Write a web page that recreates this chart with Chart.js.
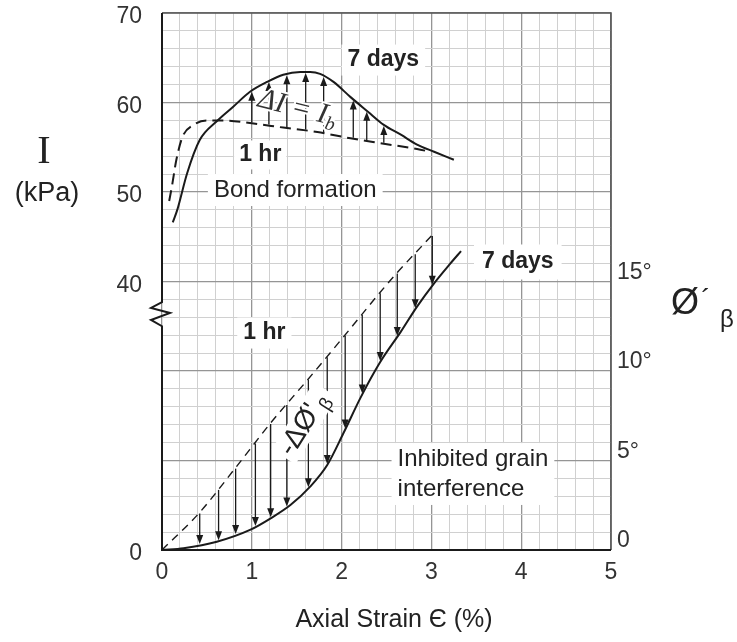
<!DOCTYPE html>
<html>
<head>
<meta charset="utf-8">
<script src="https://cdn.jsdelivr.net/npm/chart.js@4.4.1/dist/chart.umd.min.js"></script>
<style>
html,body{margin:0;padding:0;background:#fff;}
#chart{display:block;}
</style>
</head>
<body>
<canvas id="chart" width="737" height="642"></canvas>
<script>
// upper curves: I (kPa) against axial strain (%)
var strain7dI = [0.12, 0.17, 0.28, 0.42, 0.61, 0.79, 0.98, 1.17, 1.35, 1.54, 1.65, 1.76, 1.91, 2.10, 2.29, 2.47, 2.66, 2.84, 3.03, 3.25];
var stress7d  = [46.6, 48.0, 52.1, 55.8, 57.9, 59.5, 61.2, 62.3, 63.1, 63.4, 63.4, 63.2, 62.3, 60.6, 59.0, 57.5, 56.4, 55.3, 54.5, 53.6];
var strain1hI = [0.08, 0.11, 0.16, 0.23, 0.35, 0.50, 0.68, 0.98, 1.35, 1.73, 2.10, 2.47, 2.84, 2.99];
var stress1h  = [49.0, 50.6, 53.6, 56.2, 57.5, 58.0, 58.0, 57.7, 57.2, 56.7, 56.0, 55.4, 54.8, 54.5];

// lower curves: phi'b (deg) against axial strain (%)
var strain7dPhi = [0, 0.24, 0.61, 0.98, 1.21, 1.43, 1.65, 1.84, 2.02, 2.21, 2.43, 2.66, 2.84, 3.03, 3.21, 3.33];
var phi7d       = [0, 0.10, 0.46, 1.12, 1.77, 2.51, 3.54, 4.75, 6.52, 8.50, 10.5, 12.2, 13.6, 14.9, 16.0, 16.7];
var strain1hPhi = [0, 0.42, 0.82, 1.21, 1.62, 2.02, 2.43, 2.62, 3.01];
var phi1h       = [0, 2.1, 4.6, 7.1, 9.5, 11.9, 14.4, 15.5, 17.6];

// arrows between the curves (strain positions)
var upArrowX = [1.00, 1.19, 1.39, 1.60, 1.80, 2.13, 2.28, 2.47];
var downArrowX = [0.42, 0.63, 0.82, 1.04, 1.21, 1.39, 1.63, 1.84, 2.04, 2.23, 2.43, 2.62, 2.82, 3.01];

// tick labels
var leftTickVals = [10, 40, 50, 60, 70];
var leftTickText = ["0", "40", "50", "60", "70"];
var rightTickVals = [0, 5, 10, 15];
var rightTickText = ["0", "5°", "10°", "15°"];

var SANS = '"Liberation Sans", Arial, sans-serif';
var SERIF = '"Liberation Serif", "Times New Roman", serif';
var majorCol = "#959595", minorCol = "#d0d0d0";

function pts(xs, ys) {
    var out = [];
    for (var i = 0; i < xs.length; i++) out.push({x: xs[i], y: ys[i]});
    return out;
}
function interp(xs, ys, x) {
    if (x <= xs[0]) return ys[0];
    for (var i = 1; i < xs.length; i++) {
        if (x <= xs[i]) {
            var t = (x - xs[i - 1]) / (xs[i] - xs[i - 1]);
            return ys[i - 1] + t * (ys[i] - ys[i - 1]);
        }
    }
    return ys[ys.length - 1];
}
function isStep(v, s) {
    var r = v / s;
    return Math.abs(r - Math.round(r)) < 1e-6;
}
function arrow(ctx, x, y1, y2) {
    var dir = y2 > y1 ? 1 : -1;
    ctx.beginPath();
    ctx.moveTo(x, y1);
    ctx.lineTo(x, y2 - dir * 6);
    ctx.stroke();
    ctx.beginPath();
    ctx.moveTo(x, y2);
    ctx.lineTo(x - 3.5, y2 - dir * 9);
    ctx.lineTo(x + 3.5, y2 - dir * 9);
    ctx.closePath();
    ctx.fill();
}
function boxText(ctx, txt, x, y, font, padX, padY) {
    ctx.font = font;
    var w = ctx.measureText(txt).width;
    var h = parseInt(font.replace("bold ", ""), 10);
    ctx.fillStyle = "#fff";
    ctx.fillRect(x - w / 2 - padX, y - h / 2 - padY, w + padX * 2, h + padY * 2);
    ctx.fillStyle = "#222";
    ctx.fillText(txt, x, y);
}
// y axes: no extra room for half labels, the frame top sits at 13px
function fixY(width) {
    return function (s) {
        s.width = width;
        s.paddingTop = 0;
        s.paddingBottom = 0;
    };
}

var extras = {
    id: "extras",
    beforeDatasetsDraw: function (chart) {
        var ctx = chart.ctx, xs = chart.scales.x, ys = chart.scales.phi;
        ctx.save();
        ctx.textAlign = "center";
        ctx.textBaseline = "middle";
        boxText(ctx, "7 days", xs.getPixelForValue(2.465), ys.getPixelForValue(27.37), "bold 23px " + SANS, 6, 4);
        boxText(ctx, "1 hr", xs.getPixelForValue(1.094), ys.getPixelForValue(22.07), "bold 23px " + SANS, 5, 3);
        boxText(ctx, "Bond formation", xs.getPixelForValue(1.484), ys.getPixelForValue(20.11), "24px " + SANS, 6, 4);
        boxText(ctx, "7 days", xs.getPixelForValue(3.962), ys.getPixelForValue(16.09), "bold 23px " + SANS, 8, 6);
        boxText(ctx, "1 hr", xs.getPixelForValue(1.14), ys.getPixelForValue(12.12), "bold 23px " + SANS, 6, 4);
        // two line note
        ctx.font = "24px " + SANS;
        var lx = xs.getPixelForValue(2.623);
        var l1 = ys.getPixelForValue(5.08), l2 = ys.getPixelForValue(3.41);
        var w = ctx.measureText("Inhibited grain").width;
        ctx.fillStyle = "#fff";
        ctx.fillRect(lx - 6, l1 - 16, w + 12, l2 - l1 + 32);
        ctx.fillStyle = "#222";
        ctx.textAlign = "left";
        ctx.fillText("Inhibited grain", lx, l1);
        ctx.fillText("interference", lx, l2);
        ctx.restore();
    },
    afterDatasetsDraw: function (chart) {
        var ctx = chart.ctx, xs = chart.scales.x, ys = chart.scales.phi, yi = chart.scales.yI;
        var i, x, px;
        ctx.save();
        ctx.strokeStyle = "#1a1a1a";
        ctx.fillStyle = "#1a1a1a";
        ctx.lineWidth = 1.3;
        for (i = 0; i < upArrowX.length; i++) {
            x = upArrowX[i];
            px = xs.getPixelForValue(x);
            arrow(ctx, px, yi.getPixelForValue(interp(strain1hI, stress1h, x)) - 1,
                yi.getPixelForValue(interp(strain7dI, stress7d, x)) + 1);
        }
        for (i = 0; i < downArrowX.length; i++) {
            x = downArrowX[i];
            px = xs.getPixelForValue(x);
            arrow(ctx, px, ys.getPixelForValue(interp(strain1hPhi, phi1h, x)) + 1,
                ys.getPixelForValue(interp(strain7dPhi, phi7d, x)) - 1);
        }

        // delta I = Ib
        ctx.translate(xs.getPixelForValue(1.574), yi.getPixelForValue(10 + 2 * 24.58));
        ctx.rotate(14 * Math.PI / 180);
        ctx.textBaseline = "middle";
        ctx.textAlign = "left";
        ctx.font = "italic 29px " + SERIF;
        ctx.lineWidth = 4;
        ctx.strokeStyle = "#fff";
        ctx.strokeText("\u0394I = I", -46, 0);
        ctx.fillStyle = "#333";
        ctx.fillText("\u0394I = I", -46, 0);
        var ww = ctx.measureText("\u0394I = I").width;
        ctx.font = "italic 19px " + SERIF;
        ctx.strokeText("b", -46 + ww, 8);
        ctx.fillText("b", -46 + ww, 8);
        ctx.setTransform(1, 0, 0, 1, 0, 0);

        // - delta phi'b
        ctx.translate(xs.getPixelForValue(1.54), ys.getPixelForValue(6.7));
        ctx.rotate(-58 * Math.PI / 180);
        ctx.font = "28px " + SANS;
        var t = "-\u0394\u00D8'";
        var tw = ctx.measureText(t).width;
        ctx.fillStyle = "#fff";
        ctx.fillRect(-tw / 2 - 4, -14, tw + 24, 28);
        ctx.fillStyle = "#222";
        ctx.textAlign = "left";
        ctx.fillText(t, -tw / 2, 0);
        ctx.font = "19px " + SANS;
        ctx.fillText("\u03B2", tw / 2 + 3, 9);
        ctx.restore();
    },
    afterDraw: function (chart) {
        var ctx = chart.ctx, a = chart.chartArea, ys = chart.scales.phi;
        ctx.save();
        // frame
        ctx.strokeStyle = "#555";
        ctx.lineWidth = 1.6;
        ctx.beginPath();
        ctx.moveTo(a.left, a.top);
        ctx.lineTo(a.right, a.top);
        ctx.lineTo(a.right, a.bottom);
        ctx.stroke();
        ctx.strokeStyle = "#1a1a1a";
        ctx.lineWidth = 2;
        ctx.beginPath();
        ctx.moveTo(a.right, a.bottom);
        ctx.lineTo(a.left, a.bottom);
        ctx.lineTo(a.left, ys.getPixelForValue(12.5));
        ctx.lineTo(a.left - 11, ys.getPixelForValue(12.85));
        ctx.lineTo(a.left + 8, ys.getPixelForValue(13.24));
        ctx.lineTo(a.left - 11, ys.getPixelForValue(13.52));
        ctx.lineTo(a.left, ys.getPixelForValue(13.85));
        ctx.lineTo(a.left, a.top);
        ctx.stroke();

        // axis titles
        ctx.fillStyle = "#222";
        ctx.textAlign = "center";
        ctx.textBaseline = "middle";
        ctx.font = "40px " + SERIF;
        ctx.fillText("I", 44, 152);
        ctx.font = "27px " + SANS;
        ctx.fillText("(kPa)", 47, 194);
        ctx.font = "25px " + SANS;
        ctx.fillText("Axial Strain \u0404 (%)", 394, 620);
        ctx.font = "36px " + SANS;
        ctx.fillText("\u00D8", 685, 304);
        ctx.font = "28px " + SANS;
        ctx.fillText("\u00B4", 706, 300);
        ctx.font = "24px " + SANS;
        ctx.fillText("\u03B2", 727, 320);
        ctx.restore();
    }
};

var ctx1 = document.getElementById("chart");
var myChart = new Chart(ctx1, {
    type: "scatter",
    data: {
        datasets: [{
            label: "7 days I",
            data: pts(strain7dI, stress7d),
            yAxisID: "yI",
            showLine: true,
            borderColor: "#1a1a1a",
            borderWidth: 2,
            pointRadius: 0,
            cubicInterpolationMode: "monotone"
        }, {
            label: "1 hr I",
            data: pts(strain1hI, stress1h),
            yAxisID: "yI",
            showLine: true,
            borderColor: "#1a1a1a",
            borderWidth: 2,
            borderDash: [11, 6],
            pointRadius: 0,
            cubicInterpolationMode: "monotone"
        }, {
            label: "7 days phi",
            data: pts(strain7dPhi, phi7d),
            yAxisID: "phi",
            showLine: true,
            borderColor: "#1a1a1a",
            borderWidth: 2,
            pointRadius: 0,
            cubicInterpolationMode: "monotone"
        }, {
            label: "1 hr phi",
            data: pts(strain1hPhi, phi1h),
            yAxisID: "phi",
            showLine: true,
            borderColor: "#1a1a1a",
            borderWidth: 1.4,
            borderDash: [8, 6],
            pointRadius: 0,
            cubicInterpolationMode: "monotone"
        }]
    },
    options: {
        responsive: false,
        animation: false,
        devicePixelRatio: 1,
        layout: {padding: {top: 13, left: 0, right: 0, bottom: 0}},
        plugins: {legend: {display: false}, tooltip: {enabled: false}},
        scales: {
            x: {
                type: "linear",
                min: 0,
                max: 5,
                afterFit: function (s) { s.height = 92; },
                ticks: {
                    stepSize: 0.2,
                    autoSkip: false,
                    maxRotation: 0,
                    padding: 9,
                    color: "#333",
                    font: {family: SANS, size: 23},
                    callback: function (v) { return isStep(v, 1) ? String(Math.round(v)) : ""; }
                },
                grid: {
                    drawTicks: false,
                    color: function (c) { return isStep(c.tick.value, 1) ? majorCol : minorCol; },
                    lineWidth: function (c) { return isStep(c.tick.value, 1) ? 1.3 : 1; }
                },
                border: {display: false}
            },
            yI: {
                type: "linear",
                position: "left",
                min: 10,
                max: 70,
                afterFit: fixY(162),
                afterBuildTicks: function (s) {
                    s.ticks = leftTickVals.map(function (v) { return {value: v}; });
                },
                ticks: {
                    padding: 12,
                    labelOffset: 4,
                    color: "#333",
                    font: {family: SANS, size: 23},
                    callback: function (v) {
                        var k = leftTickVals.indexOf(v);
                        return k >= 0 ? leftTickText[k] : "";
                    }
                },
                grid: {display: false},
                border: {display: false}
            },
            phi: {
                type: "linear",
                position: "right",
                min: 0,
                max: 30,
                afterFit: fixY(126),
                ticks: {
                    stepSize: 1,
                    autoSkip: false,
                    padding: 6,
                    labelOffset: -9,
                    color: "#333",
                    font: {family: SANS, size: 23},
                    callback: function (v) {
                        var k = rightTickVals.indexOf(v);
                        return k >= 0 ? rightTickText[k] : "";
                    }
                },
                grid: {
                    drawTicks: false,
                    color: function (c) { return isStep(c.tick.value, 5) ? majorCol : minorCol; },
                    lineWidth: function (c) { return isStep(c.tick.value, 5) ? 1.3 : 1; }
                },
                border: {display: false}
            }
        }
    },
    plugins: [extras]
});
</script>
</body>
</html>
